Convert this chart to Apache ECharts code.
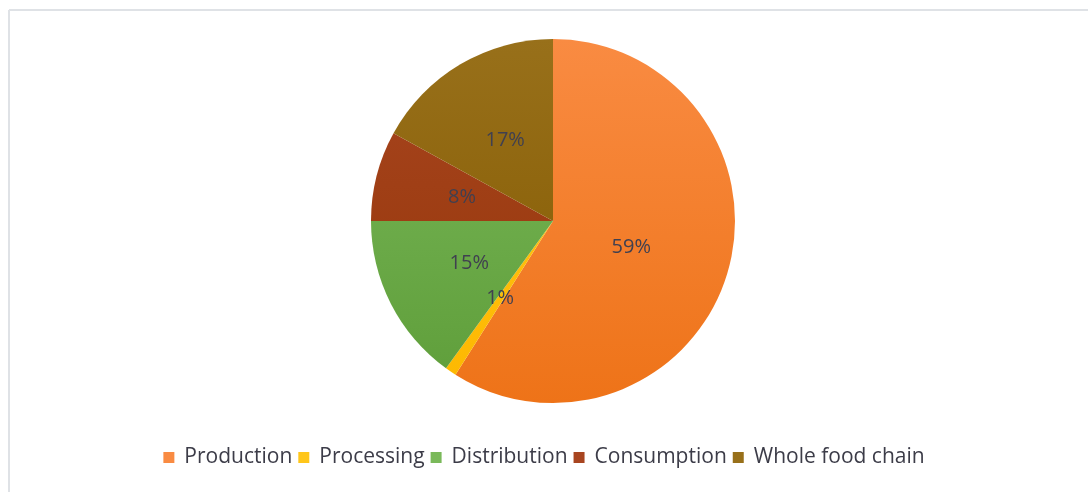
<!DOCTYPE html>
<html>
<head>
<meta charset="utf-8">
<script src="https://cdn.jsdelivr.net/npm/echarts@6/dist/echarts.min.js"></script>
<style>
html,body{margin:0;padding:0;background:#fff;}
#chart{width:1088px;height:492px;}
</style>
</head>
<body>
<div id="chart"></div>
<script>
const categories = ['Production', 'Processing', 'Distribution', 'Consumption', 'Whole food chain'];
const values = [59, 1, 15, 8, 17];
const colorTop = ['#F98B42', '#FFC61A', '#7AB95A', '#A84520', '#98701A'];
const colorBottom = ['#EE7318', '#FDB800', '#5E9D39', '#943607', '#835900'];

const chart = echarts.init(document.getElementById('chart'));
const cy = 221, R = 182;
const data = categories.map((name, i) => {
  const item = {
    name: name,
    value: values[i],
    itemStyle: {
      color: {
        type: 'linear', global: true,
        x: 0, y: cy - R, x2: 0, y2: cy + R,
        colorStops: [{offset: 0, color: colorTop[i]}, {offset: 1, color: colorBottom[i]}]
      }
    }
  };
  if (i === 0) item.label = {offset: [-12, 0]};
  return item;
});

chart.setOption({
  animation: false,
  color: colorBottom,
  graphic: [
    {type: 'line', shape: {x1: 9, y1: 10, x2: 1088, y2: 10}, style: {stroke: '#dfe2e6', lineWidth: 2}, silent: true},
    {type: 'line', shape: {x1: 9, y1: 10, x2: 9, y2: 492}, style: {stroke: '#dfe2e6', lineWidth: 2}, silent: true}
  ],
  legend: {
    bottom: 19,
    left: 'center',
    itemWidth: 11,
    itemHeight: 11,
    itemGap: 6,
    icon: 'rect',
    textStyle: {fontFamily: 'Open Sans', fontSize: 21, color: '#3c3c48', padding: [0, 0, 0, 5]},
    data: categories
  },
  series: [{
    type: 'pie',
    center: [553, cy],
    radius: R,
    startAngle: 90,
    clockwise: true,
    label: {
      show: true,
      position: 'inside',
      formatter: '{c}%',
      fontFamily: 'Open Sans',
      fontSize: 20,
      color: '#404050'
    },
    labelLine: {show: false},
    emphasis: {disabled: true},
    data: data
  }]
});
</script>
</body>
</html>
